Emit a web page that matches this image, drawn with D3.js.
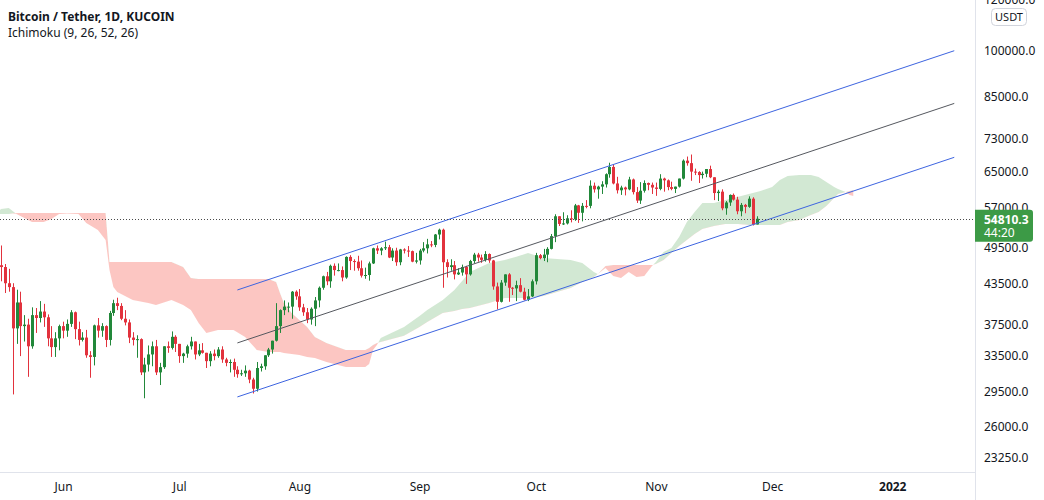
<!DOCTYPE html>
<html><head><meta charset="utf-8">
<script src="https://cdn.jsdelivr.net/npm/d3@7"></script>
<style>
html,body{margin:0;padding:0;background:#fff;}
svg{display:block;font-family:"Noto Sans","Open Sans",sans-serif;}
</style></head><body>
<svg id="chart" width="1044" height="500"></svg>
<script>
// ---------- DATA ----------
const title = "Bitcoin / Tether, 1D, KUCOIN";
const indicatorLabel = "Ichimoku (9, 26, 52, 26)";
const currency = "USDT";
const firstCandleDay = "2021-05-16";   // candles are consecutive daily bars
const opens = [
 46400,46100,43500,42900,37000,40600,37300,37500,34700,38800,38400,39300,38500,35700,34600,35700,
 37300,36700,37600,39200,36900,35500,35800,33600,33400,37400,36700,37300,35500,39100,40500,40100,38300,37800,35800,35500,35600,31600,32500,33700,34700,31600,32200,34700,34500,35900,
 35000,33500,33800,34700,35300,33700,34200,33900,32900,33800,33500,34300,33100,32700,32800,31900,31400,31500,31800,30800,29800,32100,32300,33600,34300,35400,37300,39500,40000,40000,42200,
 41500,39900,39200,38200,39700,40900,42800,44600,43800,46300,45600,45600,44400,47800,47100,47000,45900,44700,44800,46700,49300,48900,49300,49500,47700,48900,46900,49100,48900,48800,47000,
 47200,48900,49300,50000,49900,51800,52700,46900,46100,46400,44900,45200,46100,44900,47100,48200,47700,47300,48300,47200,43000,40700,43600,44900,42800,42700,43200,42200,41000,41500,
 43800,48100,47600,48200,49200,51500,55300,53800,53900,54900,54700,57500,56000,57400,57400,61700,60900,61500,62000,64300,66000,62200,60700,61300,60900,63100,60300,58500,60600,62300,61900,
 61300,61000,63300,62900,61400,61000,61500,63300,67500,66900,64900,64800,64100,64400,65500,63600,60100,60400,56900,58100,59700,58700,56300,57600,57200,58900,53700];
const highs = [
 49800,46600,45800,43500,42500,42200,38800,38300,39900,39800,40800,40400,38900,37300,36500,37500,
 37900,38200,39500,39300,37900,36500,36800,34100,37500,38400,37700,37400,39400,41000,41300,40500,39500,38200,36500,36100,35700,33300,34800,35300,35500,32700,34700,35300,36600,36100,
 35000,33900,34900,35900,35300,35000,35100,33900,34100,34300,34600,34700,33300,33100,33200,32300,31900,32400,31900,31000,32800,32600,33600,34500,35400,40500,39600,40900,40600,42300,42400,
 42600,40400,39800,39900,41400,43000,44700,45300,46500,46700,46700,46200,47900,48100,47400,48000,47200,46000,47000,49400,49800,49500,50500,49900,49300,49400,49200,49300,49700,48900,48500,
 49200,50400,51000,50600,51900,52900,52900,47400,47400,47100,45900,46500,46300,47300,48500,48500,48200,48800,48400,47300,43600,44000,44900,45100,42900,43900,44300,42800,42600,44100,
 48500,48300,49200,49500,51900,55700,55300,56100,55500,56500,57800,57600,58000,58600,62900,62400,61700,62700,64500,67000,66600,63700,61700,61500,63700,63300,61400,62500,62900,62400,62400,
 62400,64300,63500,63100,62600,61500,63300,67800,68500,69000,65600,65000,64900,65500,66300,63600,60800,60900,58400,59800,60000,59300,58000,57800,59400,59200,55300];
const lows = [
 43800,42000,42200,29200,35000,33500,35300,31100,34400,36400,37800,37200,34700,33400,33400,34200,
 35700,35900,37200,35600,34800,35300,33300,31000,32400,35800,35900,34600,34800,38700,39500,38100,37400,35100,34800,33300,31300,28800,31700,32300,31300,30200,32000,33900,34300,34000,
 32700,32700,33300,34300,33100,33500,33800,32100,32300,33000,33300,32700,32300,31600,31100,31000,31200,31100,30400,29300,29500,31700,31900,33400,33800,35300,36400,38800,39200,38300,41000,
 39400,38700,37700,37500,37300,39900,42500,43200,42800,44700,45400,43800,44200,45600,45500,45500,44400,44200,43900,46600,48300,48100,49000,47600,47100,46300,46400,48400,47800,46900,46700,
 46500,48600,48400,49500,49500,50900,42800,44400,45500,44100,44800,44700,43400,44700,46700,47000,46800,47000,46800,42500,39600,40600,43100,40700,41700,40800,42100,40900,40800,41400,
 43300,47400,47100,46900,49100,50400,53400,53600,53700,54100,54400,54000,54300,56900,56900,60200,58900,59900,61300,63500,62000,60000,59700,59600,60700,59800,58000,57800,60200,60700,59900,
 59500,60700,60400,60700,60700,60100,61300,63100,66300,62800,64100,62300,63300,63600,63400,58600,58400,56500,55600,57400,58500,55700,55300,55900,57000,53500,53700];
const closes = [
 46100,43500,42900,37000,40600,37300,37500,34700,38800,38400,39300,38500,35700,34600,35700,37300,
 36700,37600,39200,36900,35500,35800,33600,33400,37400,36700,37300,35500,39100,40500,40100,38300,37800,35800,35500,35600,31600,32500,33700,34700,31600,32200,34700,34500,35900,35000,
 33500,33800,34700,35300,33700,34200,33900,32900,33800,33500,34300,33100,32700,32800,31900,31400,31500,31800,30800,29800,32100,32300,33600,34300,35400,37300,39500,40000,40000,42200,41500,
 39900,39200,38200,39700,40900,42800,44600,43800,46300,45600,45600,44400,47800,47100,47000,45900,44700,44800,46700,49300,48900,49300,49500,47700,48900,46900,49100,48900,48800,47000,47200,
 48900,49300,50000,49900,51800,52700,46900,46100,46400,44900,45200,46100,44900,47100,48200,47700,47300,48300,47200,43000,40700,43600,44900,42800,42700,43200,42200,41000,41500,43800,
 48100,47600,48200,49200,51500,55300,53800,53900,54900,54700,57500,56000,57400,57300,61700,60900,61500,62000,64300,66000,62200,60700,61300,60900,63100,60300,58500,60600,62300,61900,61300,
 61000,63300,62900,61400,61000,61500,63300,67500,66900,64900,64800,64100,64400,65500,63600,60100,60400,56900,58100,59700,58700,56300,57600,57200,58900,53700,54810.3];
const lastPrice = 54810.3;
const barCountdown = "44:20";

const priceTicks = [23250, 26000, 29500, 33500, 37500, 43500, 49500, 57000, 65000, 73000, 85000, 100000, 120000];
const monthTickDates = ["2021-06-01","2021-07-01","2021-08-01","2021-09-01","2021-10-01","2021-11-01","2021-12-01","2022-01-01"];
const monthTickLabels = ["Jun","Jul","Aug","Sep","Oct","Nov","Dec","2022"];

// Ichimoku cloud (Senkou span A / span B, displaced 26 bars forward)
const cloudDates = ["2021-05-15","2021-05-16","2021-05-18","2021-05-20","2021-05-22","2021-05-24","2021-05-27","2021-05-29","2021-05-31",
 "2021-06-02","2021-06-05","2021-06-07","2021-06-10","2021-06-12","2021-06-13","2021-06-14","2021-06-15","2021-06-19","2021-06-23","2021-06-25","2021-06-29",
 "2021-07-02","2021-07-04","2021-07-06","2021-07-08","2021-07-11","2021-07-15","2021-07-18","2021-07-21","2021-07-24","2021-07-26","2021-07-27","2021-07-28","2021-07-30",
 "2021-08-01","2021-08-03","2021-08-05","2021-08-08","2021-08-13","2021-08-18","2021-08-19","2021-08-20","2021-08-21","2021-08-22","2021-08-28",
 "2021-09-01","2021-09-03","2021-09-07","2021-09-10","2021-09-12","2021-09-14","2021-09-19","2021-09-23","2021-09-26","2021-09-29",
 "2021-10-03","2021-10-10","2021-10-13","2021-10-16","2021-10-17","2021-10-19","2021-10-21","2021-10-23","2021-10-25","2021-10-27","2021-10-29","2021-10-31",
 "2021-11-01","2021-11-03","2021-11-05","2021-11-07","2021-11-09","2021-11-11","2021-11-13","2021-11-16","2021-11-19","2021-11-22","2021-11-25","2021-11-28",
 "2021-12-01","2021-12-03","2021-12-05","2021-12-08","2021-12-11","2021-12-13","2021-12-15","2021-12-17","2021-12-18","2021-12-20","2021-12-21","2021-12-22"];
const spanA = [55960,56770,56960,55760,54960,54180,54180,54770,55760,
 55860,55760,53990,52650,50800,45610,42920,42160,40970,40530,40240,40970,
 40240,39530,37730,36400,36800,36800,35890,34250,34000,34000,34000,33880,33760,
 33640,33400,33280,32800,32220,32220,32570,34250,34870,35760,37190,
 38690,39530,40970,42460,43850,45290,46770,47290,47810,48490,
 47630,47290,46770,45290,44970,45940,44650,44330,45290,44490,44650,46280,
 46960,48670,49370,51350,54180,56160,57990,57990,58620,59260,59910,60560,
 61430,62980,63900,64120,64120,63680,62530,61430,61000,60330,59700,59490];
const spanB = [55760,55760,55760,55960,55960,55960,55960,55960,55960,
 55960,55960,55960,55960,55960,46960,46960,46960,46960,46960,46960,46960,
 46110,44330,44170,44170,44170,44170,44170,44170,44170,43700,42000,40530,39100,
 38140,37190,35890,35120,34250,34250,34490,34870,35120,35250,36020,
 37190,37860,39100,39390,39670,39810,40530,41260,41260,41260,
 41560,42770,43700,44490,44970,46280,46440,46440,46440,46440,46440,46440,
 46610,47290,48490,49720,50800,51900,52850,53420,53800,53800,53600,53600,
 53600,53600,54180,54570,55550,56160,57380,59050,59910,60330,60560,60770];

// parallel channel drawing (two anchor points per line)
const channelDates = ["2021-07-16","2022-01-17"];
const channelUpper = [42460, 100100];
const channelMiddle = [35120, 82870];
const channelLower = [28940, 68310];

// ---------- CHART ----------
const W = 1044, H = 500, plotRight = 975, plotBottom = 472;
const upColor = "#22883a", downColor = "#e2323d";
const parse = d3.utcParse("%Y-%m-%d");
const svg = d3.select("#chart");

const x = d3.scaleUtc().domain([parse("2021-06-01"), parse("2022-01-01")]).range([63, 892.25]);
const y = d3.scaleLog().domain([100000, 23250]).range([51, 458]);

svg.append("defs").append("clipPath").attr("id","plotClip")
  .append("rect").attr("x",0).attr("y",0).attr("width",plotRight).attr("height",plotBottom);

const plot = svg.append("g").attr("clip-path","url(#plotClip)");

// cloud
const cloud = cloudDates.map((d,i)=>({date:parse(d), a:spanA[i], b:spanB[i]}));
const defs = svg.select("defs");
defs.append("clipPath").attr("id","aboveB").append("path")
  .attr("d", d3.area().x(d=>x(d.date)).y0(-10).y1(d=>y(d.b))(cloud));
defs.append("clipPath").attr("id","belowB").append("path")
  .attr("d", d3.area().x(d=>x(d.date)).y0(H+10).y1(d=>y(d.b))(cloud));
const between = d3.area().x(d=>x(d.date)).y0(d=>y(d.a)).y1(d=>y(d.b));
plot.append("path").attr("d", between(cloud)).attr("fill","rgba(67,160,71,0.24)").attr("clip-path","url(#aboveB)");
plot.append("path").attr("d", between(cloud)).attr("fill","rgba(244,67,54,0.3)").attr("clip-path","url(#belowB)");

// candles
const start = parse(firstCandleDay);
const candles = opens.map((o,i)=>({date:d3.utcDay.offset(start,i), o, h:highs[i], l:lows[i], c:closes[i]}));
const cg = plot.append("g");
candles.forEach(d=>{
  const cx = Math.round(x(d.date));
  const col = d.c >= d.o ? upColor : downColor;
  cg.append("line").attr("x1",cx+0.5).attr("x2",cx+0.5).attr("y1",y(d.h)).attr("y2",y(d.l)).attr("stroke",col).attr("stroke-width",1);
  const top = y(Math.max(d.o,d.c)), bot = y(Math.min(d.o,d.c));
  cg.append("rect").attr("x",cx-1).attr("width",3).attr("y",top).attr("height",Math.max(1,bot-top)).attr("fill",col);
});

// channel
const chan = (vals)=>channelDates.map((d,i)=>[x(parse(d)), y(vals[i])]);
const line = d3.line();
plot.append("path").attr("d",line(chan(channelUpper))).attr("stroke","#3d64e0").attr("stroke-width",1).attr("fill","none");
plot.append("path").attr("d",line(chan(channelMiddle))).attr("stroke","#55585f").attr("stroke-width",1).attr("fill","none");
plot.append("path").attr("d",line(chan(channelLower))).attr("stroke","#3d64e0").attr("stroke-width",1).attr("fill","none");

// last price dotted line
plot.append("line").attr("x1",0).attr("x2",plotRight).attr("y1",Math.round(y(lastPrice))+0.5).attr("y2",Math.round(y(lastPrice))+0.5)
  .attr("stroke","#4a4a4a").attr("stroke-width",1).attr("stroke-dasharray","1,2");

// axes frame
svg.append("line").attr("x1",plotRight+0.5).attr("x2",plotRight+0.5).attr("y1",0).attr("y2",H).attr("stroke","#e0e3eb");
svg.append("line").attr("x1",0).attr("x2",plotRight).attr("y1",plotBottom+0.5).attr("y2",plotBottom+0.5).attr("stroke","#e0e3eb");

// right price axis
const yAxis = d3.axisRight(y).tickValues(priceTicks).tickFormat(d3.format(".1f")).tickSize(0).tickPadding(9);
const ya = svg.append("g").attr("transform",`translate(${plotRight},0)`).call(yAxis);
ya.select(".domain").remove();
ya.selectAll("text").attr("font-size",12).attr("fill","#131722").attr("font-family","'Noto Sans',sans-serif");

// bottom time axis
const xAxis = d3.axisBottom(x).tickValues(monthTickDates.map(parse)).tickFormat((d,i)=>monthTickLabels[i]).tickSize(0).tickPadding(10);
const xa = svg.append("g").attr("transform",`translate(0,${plotBottom})`).call(xAxis);
xa.select(".domain").remove();
xa.selectAll("text").attr("font-size",12).attr("fill","#131722").attr("font-family","'Noto Sans',sans-serif")
  .attr("font-weight",(d,i)=>monthTickLabels[i]==="2022"?"bold":"normal");

// currency badge
svg.append("rect").attr("x",991.5).attr("y",8.5).attr("width",35).attr("height",17).attr("rx",4)
  .attr("fill","#fff").attr("stroke","#d1d4dc");
svg.append("text").attr("x",1009).attr("y",21).attr("text-anchor","middle").attr("font-size",11).attr("fill","#131722").text(currency);

// last price label
const ly = y(lastPrice);
svg.append("path").attr("d",`M${plotRight},${ly-9} H1030 a3,3 0 0 1 3,3 V${ly+20} a3,3 0 0 1 -3,3 H${plotRight} Z`)
  .attr("fill","#3c9a46");
svg.append("text").attr("x",984).attr("y",ly+5).attr("font-size",12).attr("font-weight","bold").attr("fill","#fff").text(d3.format(".1f")(lastPrice));
svg.append("text").attr("x",984).attr("y",ly+18).attr("font-size",12).attr("fill","#fff").text(barCountdown);

// legend
svg.append("text").attr("x",8).attr("y",21).attr("font-size",12).attr("font-weight","bold").attr("fill","#131722").text(title);
svg.append("text").attr("x",8).attr("y",37).attr("font-size",12).attr("fill","#131722").text(indicatorLabel);
</script>
</body></html>
